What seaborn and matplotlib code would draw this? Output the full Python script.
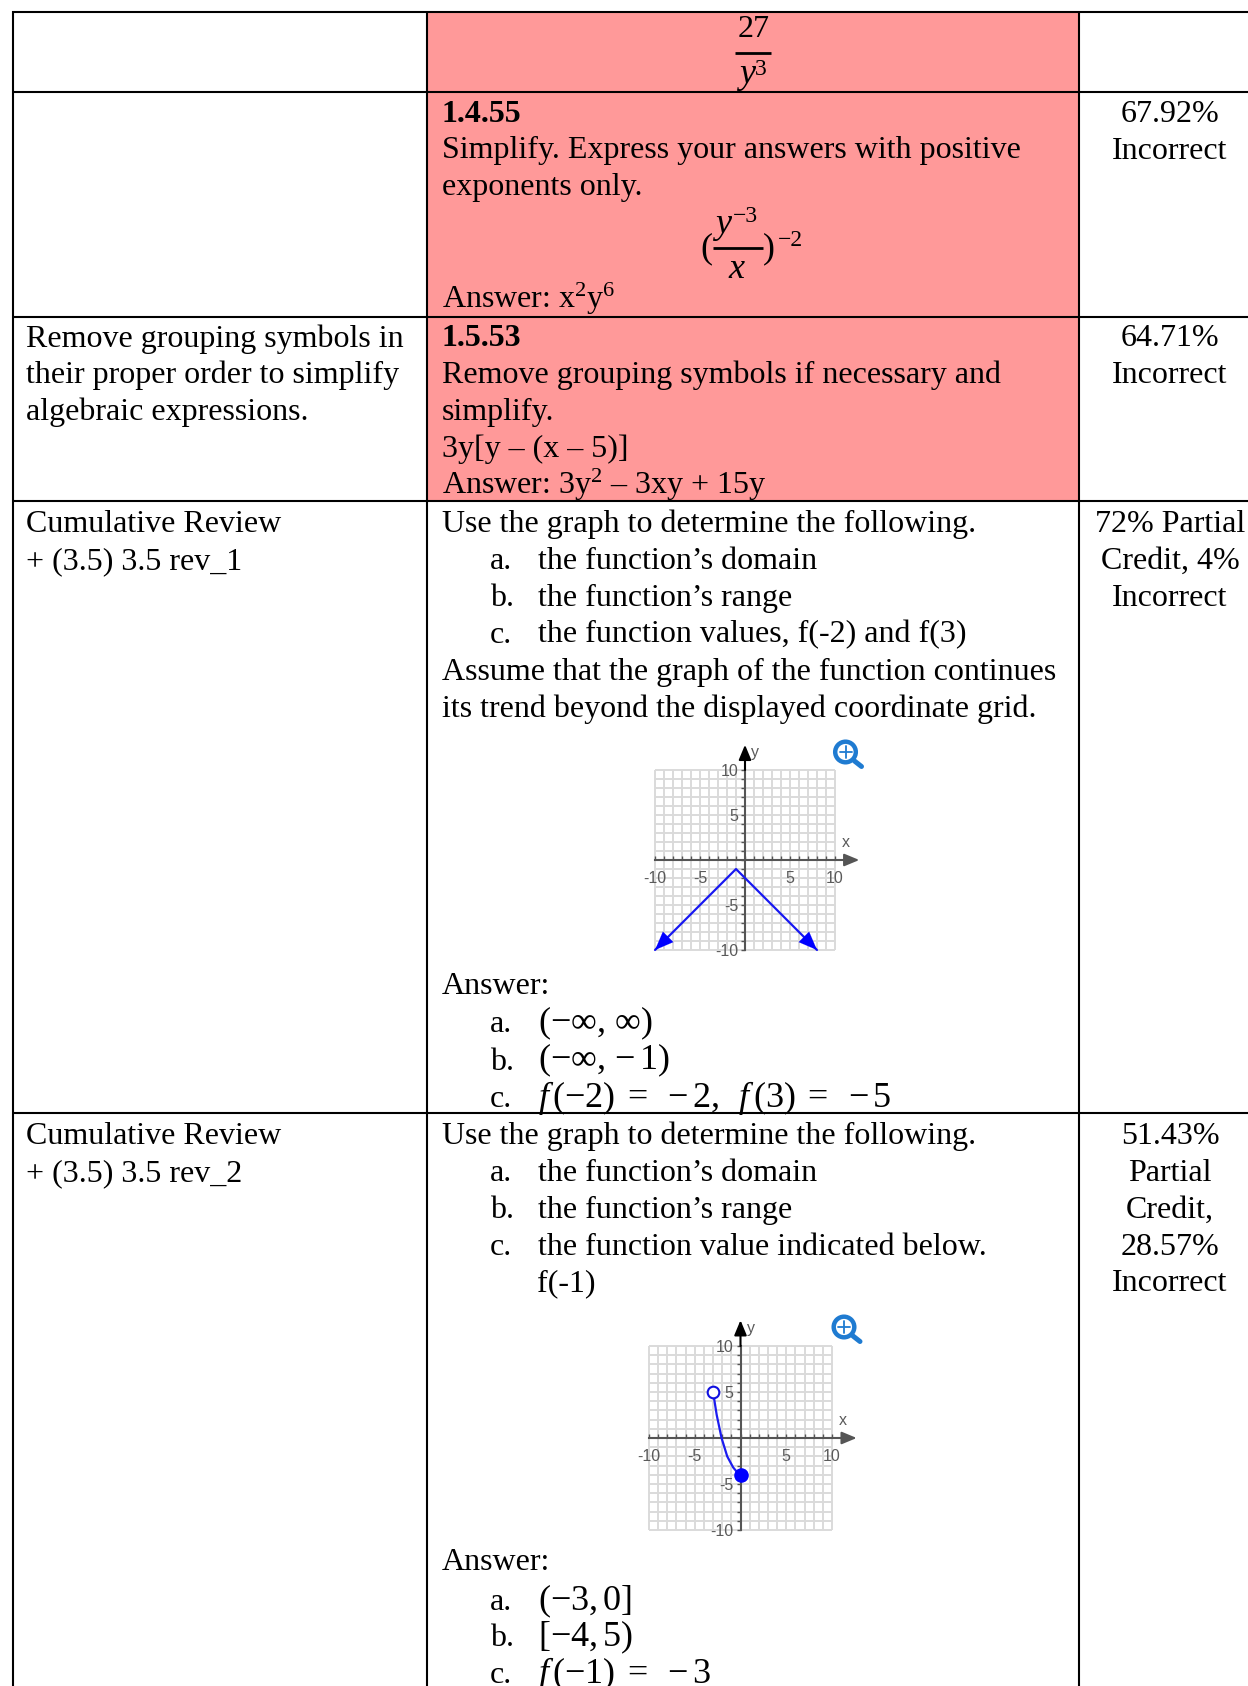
import matplotlib
matplotlib.use("Agg")
import matplotlib.pyplot as plt
from matplotlib.patches import Rectangle, Circle
import seaborn as sns
import pandas as pd

sns.set_theme(style="white")
plt.rcParams["font.family"] = ["Liberation Serif", "DejaVu Serif"]
plt.rcParams["mathtext.fontset"] = "custom"
plt.rcParams["mathtext.rm"] = "Liberation Serif"
plt.rcParams["mathtext.it"] = "Liberation Serif:italic"
plt.rcParams["mathtext.bf"] = "Liberation Serif:bold"

# ---- data ----
graph1_x = [-10, -1, 8]
graph1_y = [-10, -1, -10]
graph2_x = [-3, -2.6, -2.07, -1.45, -0.8, -0.3, 0]
graph2_y = [5, 2.5, 0, -2, -3.2, -3.8, -4]
graph2_open = ([-3], [5])
graph2_closed = ([0], [-4])
tick_values = list(range(-10, 11))
labelled_ticks = [-10, -5, 5, 10]

row3_topic = ["Remove grouping symbols in", "their proper order to simplify", "algebraic expressions."]
row4_topic = ["Cumulative Review", "+ (3.5) 3.5 rev_1"]
row5_topic = ["Cumulative Review", "+ (3.5) 3.5 rev_2"]
row2_question = ["Simplify. Express your answers with positive", "exponents only."]
row3_question = ["Remove grouping symbols if necessary and", "simplify.", "3y[y \u2013 (x \u2013 5)]",
                 "Answer: 3y$^2$ \u2013 3xy + 15y"]
row4_intro = ["Use the graph to determine the following."]
row4_items = [("a.", "the function\u2019s domain"), ("b.", "the function\u2019s range"),
              ("c.", "the function values, f(-2) and f(3)")]
row4_tail = ["Assume that the graph of the function continues", "its trend beyond the displayed coordinate grid."]
row4_answers = [("a.", r"$(-\infty,\,\infty)$"), ("b.", r"$(-\infty,\,{-}\,1)$"),
                ("c.", r"$f\,(-2)\;=\;\;{-}\,2,\;\;f\,(3)\;=\;\;{-}\,5$")]
row5_items = [("a.", "the function\u2019s domain"), ("b.", "the function\u2019s range"),
              ("c.", "the function value indicated below."), ("", "f(-1)")]
row5_answers = [("a.", r"$(-3,0]$"), ("b.", r"$[-4,5)$"), ("c.", r"$f\,(-1)\;=\;\;{-}\,3$")]
score2 = ["67.92%", "Incorrect"]
score3 = ["64.71%", "Incorrect"]
score4 = ["72% Partial", "Credit, 4%", "Incorrect"]
score5 = ["51.43%", "Partial", "Credit,", "28.57%", "Incorrect"]

W, H = 1248, 1686
FS = 23
MATH_FS = 26
SUP_FS = 17
PITCH = 36.85
PINK = "#FF9999"

fig = plt.figure(figsize=(W / 100, H / 100), dpi=100, facecolor="white")
page = fig.add_axes([0, 0, 1, 1])
page.set_xlim(0, W)
page.set_ylim(H, 0)
page.axis("off")

# table
page.add_patch(Rectangle((427, 12), 652, 489, color=PINK, lw=0, zorder=0))
for x in (12.5, 427, 1079):
    page.plot([x, x], [11, H], color="black", lw=1.5, zorder=2, solid_capstyle="butt")
for y in (12, 91.5, 316.5, 501, 1113):
    page.plot([12, W], [y, y], color="black", lw=1.5, zorder=2, solid_capstyle="butt")


def lines(x, y, items, ha="left", **kw):
    for i, s in enumerate(items):
        page.text(x, y + i * PITCH, s, ha=ha, va="baseline", fontsize=kw.get("fs", FS),
                  fontweight=kw.get("weight", "normal"), color="black", zorder=3)


def listed(y, items, tx=538, fs=FS, pitch=PITCH):
    for i, (a, b) in enumerate(items):
        page.text(490, y + i * pitch, a, va="baseline", fontsize=FS, color="black", zorder=3)
        page.text(tx, y + i * pitch, b, va="baseline", fontsize=fs, color="black", zorder=3)


def put(x, y, s, fs=FS, ha="left"):
    page.text(x, y, s, ha=ha, va="baseline", fontsize=fs, color="black", zorder=3)


COL1, COL2, COL3 = 26, 441.5, 1170
# row 1
put(753.5, 37, "27", ha="center")
page.plot([735, 771], [53, 53], color="black", lw=2, solid_capstyle="butt")
put(736, 83, "$y$", MATH_FS)
put(755, 75, "3", SUP_FS)
# row 2
lines(COL2, 122, ["1.4.55"], weight="bold")
lines(COL2, 158, row2_question)
page.plot([713, 763], [248, 248], color="black", lw=2, solid_capstyle="butt")
put(712, 233, "$y$", MATH_FS)
put(733, 222, "\u22123", SUP_FS)
put(737, 278, "$x$", MATH_FS, ha="center")
put(700, 257, "(", MATH_FS)
put(763, 257, ")", MATH_FS)
put(778, 246, "\u22122", SUP_FS)
lines(COL2, 308, ["Answer: x$^2$y$^6$"])
lines(COL3, 122, score2, ha="center")
# row 3
lines(COL1, 346.5, row3_topic)
lines(COL2, 346.5, ["1.5.53"], weight="bold")
lines(COL2, 383.5, row3_question)
lines(COL3, 346.5, score3, ha="center")
# row 4
lines(COL1, 532, row4_topic)
lines(COL2, 532, row4_intro)
listed(569, row4_items)
lines(COL2, 680, row4_tail)
lines(COL2, 993.5, ["Answer:"])
listed(1032, row4_answers, tx=538, fs=MATH_FS, pitch=37.5)
lines(COL3, 532, score4, ha="center")
# row 5
lines(COL1, 1144, row5_topic)
lines(COL2, 1144, row4_intro)
listed(1181, row5_items[:3])
put(537, 1291.5, row5_items[3][1])
lines(COL2, 1569.5, ["Answer:"])
listed(1610, row5_answers, tx=538, fs=MATH_FS, pitch=36.5)
lines(COL3, 1144, score5, ha="center")


def magnifier(cx, cy):
    blue = "#1F7BD1"
    page.add_patch(Circle((cx, cy), 10.3, fc="white", ec=blue, lw=3.2, zorder=4))
    page.plot([cx - 6, cx + 6], [cy, cy], color=blue, lw=1.3, zorder=5)
    page.plot([cx, cx], [cy - 6, cy + 6], color=blue, lw=1.3, zorder=5)
    page.plot([cx + 9, cx + 16], [cy + 9, cy + 14.5], color=blue, lw=3.6, zorder=4,
              solid_capstyle="round")


def graph(left, right, top, bottom):
    ax = fig.add_axes([left / W, 1 - bottom / H, (right - left) / W, (bottom - top) / H], facecolor="none")
    ax.set_xlim(-10, 10)
    ax.set_ylim(-10, 10)
    ax.set_xticks(tick_values)
    ax.set_yticks(tick_values)
    ax.set_xticklabels([str(t) if t in labelled_ticks else "" for t in tick_values])
    ax.set_yticklabels([str(t) if t in labelled_ticks else "" for t in tick_values])
    ax.grid(False)
    ax.vlines(tick_values, -10, 10, color="#DADADA", lw=1.4, zorder=0.4, clip_on=False)
    ax.hlines(tick_values, -10, 10, color="#DADADA", lw=1.4, zorder=0.4, clip_on=False)
    for s in ("top", "right"):
        ax.spines[s].set_visible(False)
    for s in ("left", "bottom"):
        ax.spines[s].set_position("zero")
        ax.spines[s].set_color("#555555")
        ax.spines[s].set_linewidth(1.5)
    gray = "#5A5A5A"
    ax.tick_params(axis="x", direction="in", length=3, width=1, color="#555555", pad=8,
                   labelsize=11.5, labelcolor=gray, bottom=True, left=False)
    ax.tick_params(axis="y", direction="out", length=3, width=1, color="#555555", pad=2,
                   labelsize=11.5, labelcolor=gray, left=True)
    for lab in ax.get_xticklabels() + ax.get_yticklabels():
        lab.set_family("Liberation Sans")
    ax.annotate("", xy=(12.7, 0), xytext=(10, 0), annotation_clip=False,
                arrowprops=dict(arrowstyle="-|>,head_length=0.6,head_width=0.25", color="#555555", lw=1.5,
                                mutation_scale=15, shrinkA=0, shrinkB=0))
    ax.annotate("", xy=(0, 12.8), xytext=(0, 10), annotation_clip=False,
                arrowprops=dict(arrowstyle="-|>,head_length=0.6,head_width=0.25", color="black", lw=1.5,
                                mutation_scale=15, shrinkA=0, shrinkB=0))
    ax.text(11.2, 1.9, "x", ha="center", va="center", fontsize=11.5, color=gray, family="Liberation Sans")
    ax.text(1.1, 11.9, "y", ha="center", va="center", fontsize=11.5, color=gray, family="Liberation Sans")
    return ax


# first graph
ax1 = graph(655, 835, 770, 950)
sns.lineplot(data=pd.DataFrame({"x": graph1_x, "y": graph1_y}), x="x", y="y", sort=False, ax=ax1,
             color="#1C1CF0", lw=1.6, clip_on=False, zorder=6)
for i in (0, 2):
    ax1.annotate("", xy=(graph1_x[i], graph1_y[i]), xytext=(graph1_x[1], graph1_y[1]), annotation_clip=False,
                 arrowprops=dict(arrowstyle="-|>,head_length=0.55,head_width=0.22", color="#0000FF", lw=0.1,
                                 mutation_scale=24, shrinkA=0, shrinkB=0), zorder=7)
ax1.set_xlabel("")
ax1.set_ylabel("")
magnifier(845.5, 752)

# second graph
ax2 = graph(649, 832, 1346, 1530)
sns.lineplot(data=pd.DataFrame({"x": graph2_x, "y": graph2_y}), x="x", y="y", sort=False, ax=ax2,
             color="#1C1CF0", lw=1.6, clip_on=False, zorder=6)
sns.scatterplot(x=graph2_open[0], y=graph2_open[1], ax=ax2, s=70, facecolor="white", edgecolor="#1010E0",
                linewidth=1.5, clip_on=False, zorder=7)
sns.scatterplot(x=graph2_closed[0], y=graph2_closed[1], ax=ax2, s=110, color="#0000FF", linewidth=0,
                clip_on=False, zorder=7)
ax2.set_xlabel("")
ax2.set_ylabel("")
magnifier(844, 1327)

fig.savefig("out.png", dpi=100, facecolor="white")
